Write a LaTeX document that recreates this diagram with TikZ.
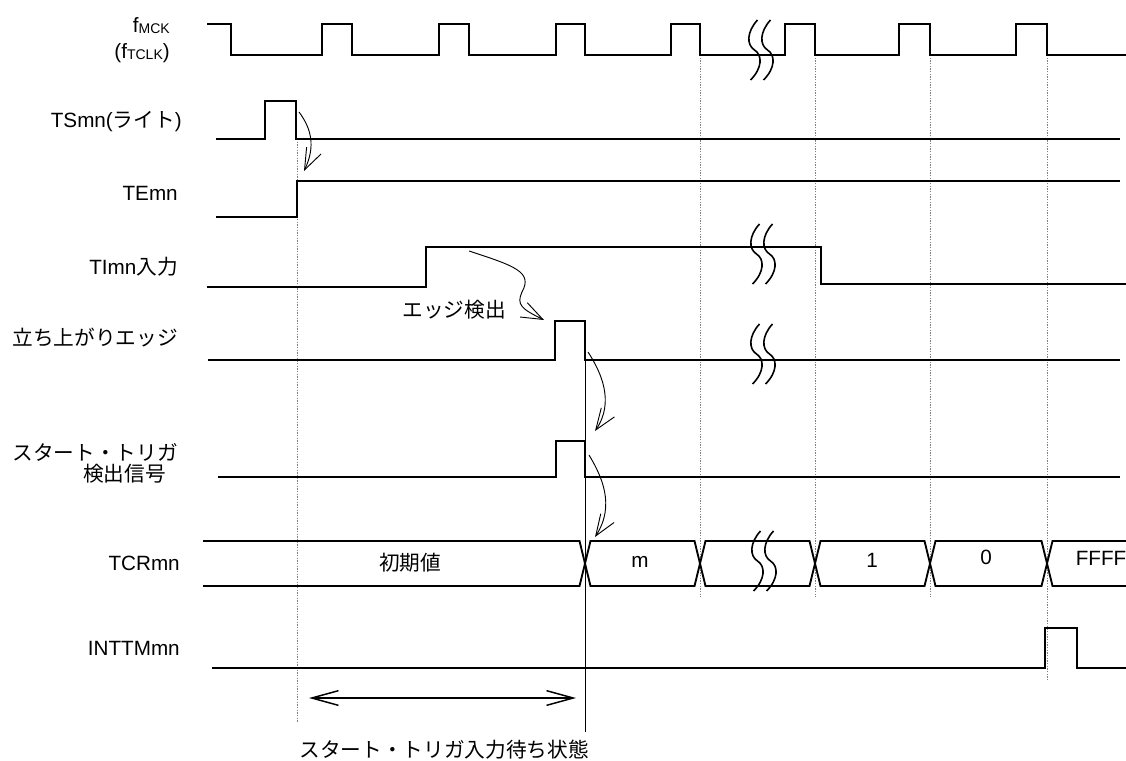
\documentclass[tikz,border=0pt]{standalone}
\usepackage{fontspec}
\setmainfont{Liberation Sans}
\newfontfamily\jp{Noto Sans CJK JP}
\usetikzlibrary{arrows.meta}
\newcommand\smsub[1]{\raisebox{-0.8pt}{\fontsize{10.5}{11}\selectfont #1}}
\tikzset{
  sig/.style={line width=1.4pt, line join=miter},
  thinv/.style={line width=0.7pt},
  dashv/.style={line width=0.5pt, gray, dash pattern=on 1pt off 1pt},
  arr/.style={line width=0.7pt, -{Straight Barb[length=16pt,width=12pt,line width=0.7pt]}},
  darr/.style={line width=1.1pt, {Straight Barb[length=20pt,width=11pt,line width=1.1pt]}-{Straight Barb[length=20pt,width=11pt,line width=1.1pt]}},
  lbl/.style={inner sep=0pt, anchor=east, font=\fontsize{15.5}{18}\selectfont},
  txt/.style={inner sep=0pt, font=\fontsize{15.5}{18}\selectfont},
  brkline/.style={line width=1.2pt},
  brkp/.pic={
    \draw[brkline] (-3.5,-30) .. controls (-14.5,-18) and (-14.5,-5) .. (-6.5,0) .. controls (1.5,5) and (1.5,18) .. (-10.5,30);
    \draw[brkline] (9.5,-30) .. controls (-1.5,-18) and (-1.5,-5) .. (6.5,0) .. controls (14.5,5) and (14.5,18) .. (2.5,30);
  }
}
\begin{document}
\begin{tikzpicture}[x=0.75pt,y=-0.75pt]
\fill[white] (0,0) rectangle (1126,760);
\useasboundingbox (0,0) rectangle (1126,760);

% labels
\node[lbl] (lfm) at (170,26) {f\smsub{MCK}};
\node[lbl] (lft) at (170,53) {(f\smsub{TCLK})};
\node[lbl] (lts) at (182,122) {TSmn({\jp ライト})};
\node[lbl] (lte) at (178,193) {TEmn};
\node[lbl] (lti) at (178,267) {TImn{\jp 入力}};
\node[lbl] (lre) at (178,338) {\jp 立ち上がりエッジ};
\node[lbl] (lst1) at (178,452) {\jp スタート・トリガ};
\node[lbl] (lst2) at (166,474) {\jp 検出信号};
\node[lbl] (ltc) at (180,563) {TCRmn};
\node[lbl] (lin) at (180,648) {INTTMmn};

% dashed verticals
\draw[dashv] (297,139) -- (297,722);
\draw[dashv] (700,55) -- (700,597);
\draw[dashv] (815,55) -- (815,597);
\draw[dashv] (930,55) -- (930,597);
\draw[dashv] (1047,55) -- (1047,680);
% solid thin vertical
\draw[thinv] (585,360) -- (585,732);

% clock
\draw[sig] (207,24) -- (231,24) -- (231,55) -- (322,55) -- (322,24) -- (352,24) -- (352,55)
  -- (439,55) -- (439,24) -- (469,24) -- (469,55) -- (556,55) -- (556,24) -- (585,24) -- (585,55)
  -- (671,55) -- (671,24) -- (700,24) -- (700,55) -- (785,55) -- (785,24) -- (815,24) -- (815,55)
  -- (899,55) -- (899,24) -- (930,24) -- (930,55) -- (1016,55) -- (1016,24) -- (1047,24) -- (1047,55) -- (1126,55);
\pic at (761,50) {brkp};

% TSmn
\draw[sig] (216,139) -- (265,139) -- (265,101) -- (296,101) -- (296,139) -- (1120,139);
% TEmn
\draw[sig] (216,217) -- (297,217) -- (297,181) -- (1120,181);
% TImn
\draw[sig] (207,287) -- (426,287) -- (426,247) -- (821,247) -- (821,284) -- (1126,284);
\pic at (763,254) {brkp};
% rising edge
\draw[sig] (208,360) -- (555,360) -- (555,321) -- (585,321) -- (585,360) -- (1120,360);
\pic at (763,354) {brkp};
% start trigger detect
\draw[sig] (218,477) -- (556,477) -- (556,441) -- (585,441) -- (585,477) -- (1120,477);
% TCRmn bus
\draw[sig] (203,541) -- (579.5,541) -- (590.5,586) -- (694.5,586) -- (705.5,541) -- (809.5,541) -- (820.5,586)
  -- (924.5,586) -- (935.5,541) -- (1041.5,541) -- (1052.5,586) -- (1126,586);
\draw[sig] (203,586) -- (579.5,586) -- (590.5,541) -- (694.5,541) -- (705.5,586) -- (809.5,586) -- (820.5,541)
  -- (924.5,541) -- (935.5,586) -- (1041.5,586) -- (1052.5,541) -- (1126,541);
\pic at (764,561) {brkp};
% INTTMmn
\draw[sig] (212,668) -- (1045,668) -- (1045,628) -- (1077,628) -- (1077,668) -- (1126,668);

% bus values
\node[txt] (v0) at (410,563) {\jp 初期値};
\node[txt] (vm) at (640,562) {m};
\node[txt] (v1) at (872,560) {1};
\node[txt] (v2) at (986,557) {0};
\node[txt] (v3) at (1101,558) {FFFF};

% causal arrows
\coordinate (a1s) at (299,112);
\coordinate (a1e) at (304,171);
\draw[arr] (a1s) .. controls (311,128) and (316,146) .. (a1e);
\coordinate (a2s) at (469,251);
\coordinate (a2e) at (544,320);
\draw[arr] (a2s) .. controls (515,266) and (533,272) .. (522,292) .. controls (516,305) and (522,309) .. (a2e);
\node[txt] (edt) at (454,310) {\jp エッジ検出};
\coordinate (a3s) at (588,352);
\coordinate (a3e) at (595,431);
\draw[arr] (a3s) .. controls (601,372) and (615,402) .. (a3e);
\coordinate (a4s) at (589,455);
\coordinate (a4e) at (595,537);
\draw[arr] (a4s) .. controls (601,475) and (616,505) .. (a4e);

% waiting period
\coordinate (wa) at (309,698);
\coordinate (wb) at (576,698);
\draw[darr] (wa) -- (wb);
\node[txt] (wt) at (444,750) {\jp スタート・トリガ入力待ち状態};
\end{tikzpicture}
\end{document}
